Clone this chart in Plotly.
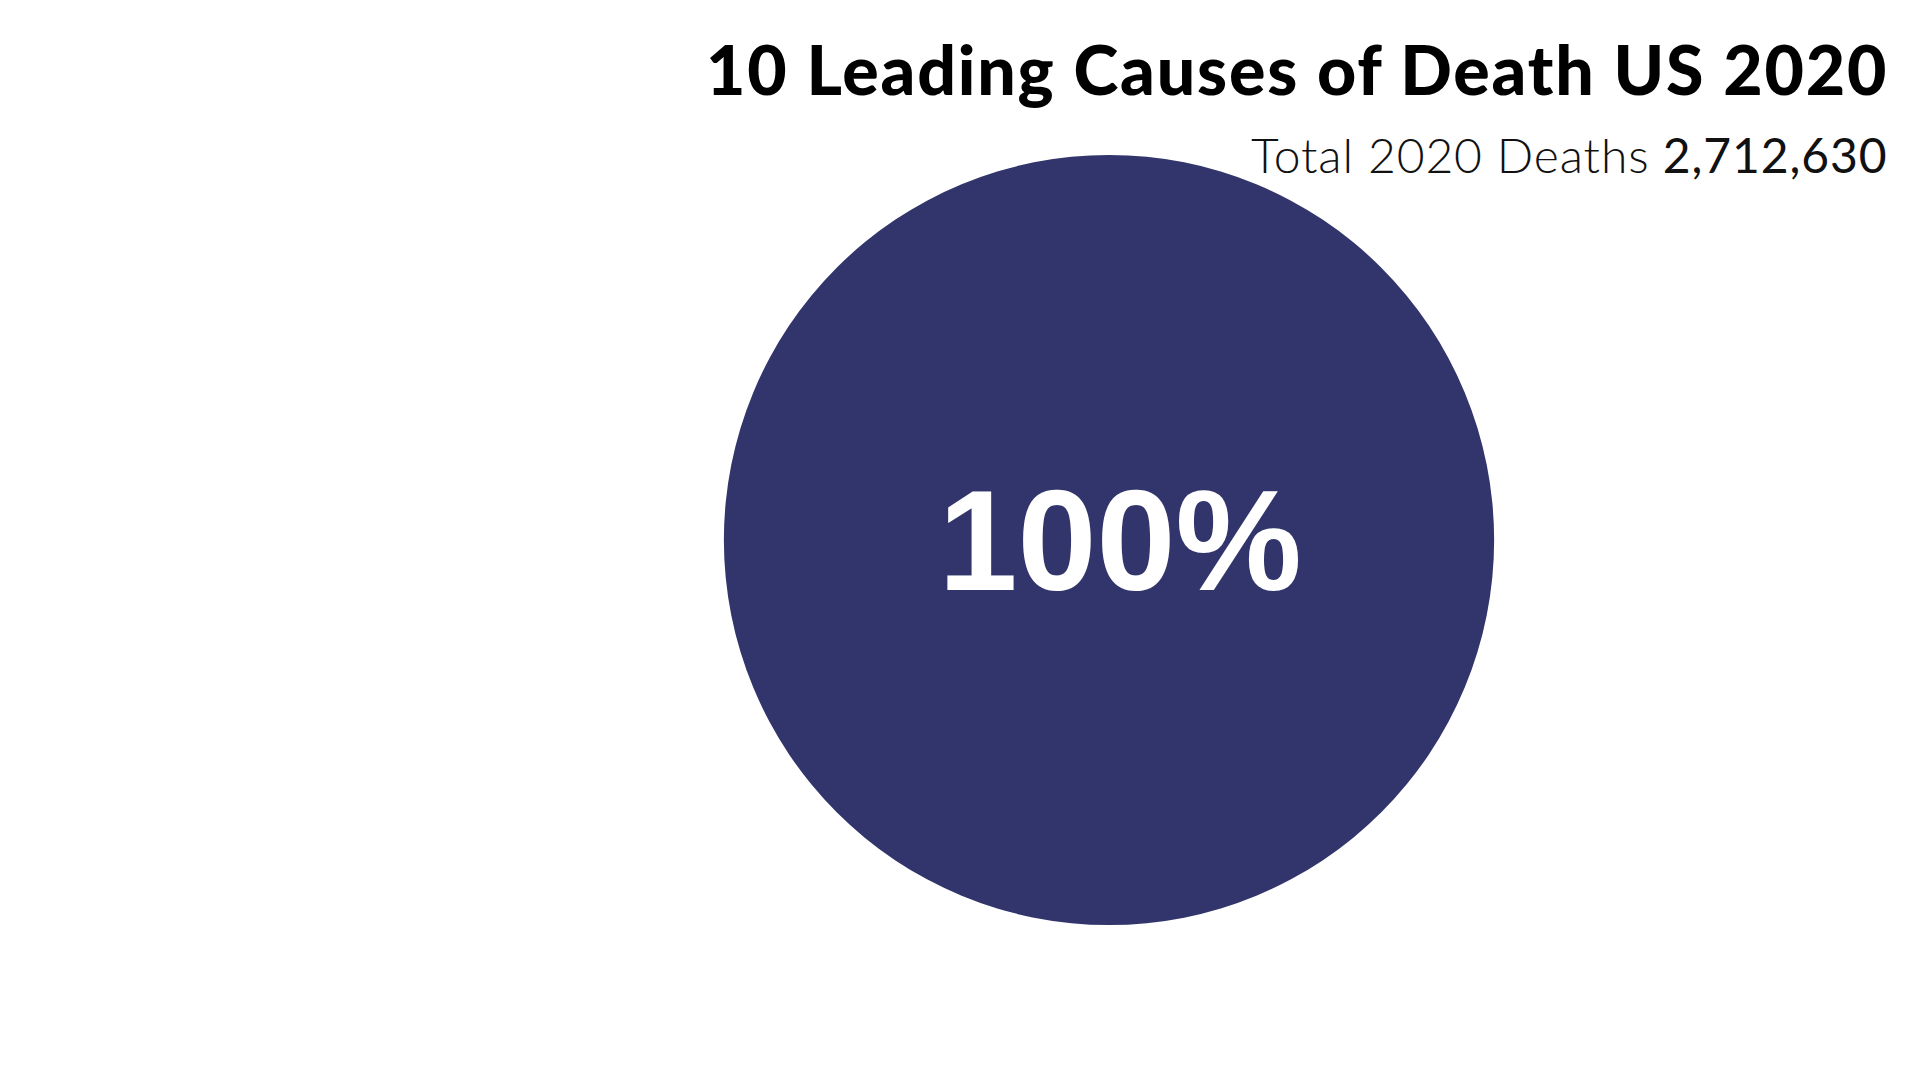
import plotly.graph_objects as go

# Data
causes = ["All causes"]
deaths = [2712630]
title_text = "10 Leading Causes of Death US 2020"
subtitle_label = "Total 2020 Deaths"

W, H = 1920, 1080
OFF = 8  # page body margin offset
pie_color = "#31356B"
cx, cy, r = 1109 - OFF, 540 - OFF, 385

fig = go.Figure(
    go.Pie(
        labels=causes,
        values=deaths,
        sort=False,
        direction="clockwise",
        textinfo="percent",
        textposition="inside",
        insidetextorientation="horizontal",
        texttemplate="<span style='font-size:80px'>\u00a0</span>%{percent:.0%}",
        insidetextfont=dict(family="Liberation Sans, Arial, sans-serif", size=142, color="white", weight="bold"),
        marker=dict(colors=[pie_color], line=dict(width=0)),
        domain=dict(x=[(cx - r) / W, (cx + r) / W], y=[1 - (cy + r) / H, 1 - (cy - r) / H]),
        showlegend=False,
        hoverinfo="label+value+percent",
    )
)

total = sum(deaths)
fig.add_annotation(
    x=(1890 - OFF) / W, y=1 - (69 - OFF) / H, xref="paper", yref="paper",
    xanchor="right", yanchor="middle",
    text=f"<span style='letter-spacing:1.8px'>{title_text}</span>", showarrow=False,
    font=dict(family="Lato, sans-serif", size=68, color="#000000", weight=900),
)
fig.add_annotation(
    x=(1890 - OFF) / W, y=1 - (157 - OFF - 3) / H, xref="paper", yref="paper",
    xanchor="right", yanchor="middle",
    text=f"<span style='letter-spacing:0.9px'><span style='font-weight:300'>{subtitle_label}</span> {total:,}</span>",
    showarrow=False,
    font=dict(family="Lato, sans-serif", size=48, color="#111111"),
)

fig.update_layout(
    width=W, height=H,
    margin=dict(l=0, r=0, t=0, b=0),
    paper_bgcolor="white", plot_bgcolor="white",
)
fig.write_html("out.html")
